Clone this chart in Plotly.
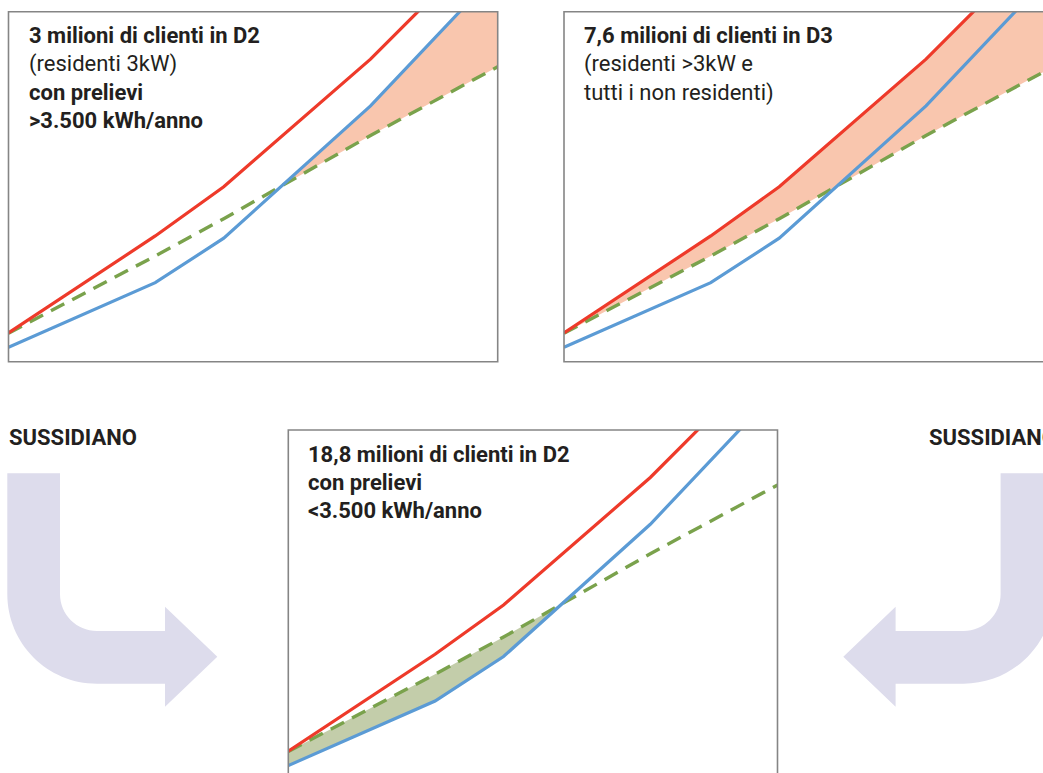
import plotly.graph_objects as go

# ---------------- data ----------------
kwh = [0, 1800, 2640, 4440, 6000]                 # consumo annuo (kWh/anno)
spesa_rossa = [115, 503, 700, 1210, 1720]         # curva rossa
spesa_blu = [58, 316, 494, 1023, 1561]            # curva blu
spesa_verde = [114, 423, 572, 905, 1180]          # curva verde tratteggiata

panel_titles = [
    [("3 milioni di clienti in D2", True), ("(residenti 3kW)", False),
     ("con prelievi", True), ("&gt;3.500 kWh/anno", True)],
    [("7,6 milioni di clienti in D3", True), ("(residenti &gt;3kW e", False),
     ("tutti i non residenti)", False)],
    [("18,8 milioni di clienti in D2", True), ("con prelievi", True),
     ("&lt;3.500 kWh/anno", True)],
]
label_sussidiano = "SUSSIDIANO"

# ---------------- style / layout ----------------
W, H = 1043, 773
XMAX, YMAX = 6000, 1400
RED, BLUE, GREEN = "#ee3a2a", "#5b9bd5", "#7aa24c"
SALMON, OLIVE = "#f9c6ae", "#c3cdaa"
LAV = "#dddcec"
TXT = "#231f20"
FONT = "Roboto"
FS = 22

PW, PH = 489.2, 350.0
panels = [(8.5, 11.7), (564.0, 11.7), (288.3, 430.0)]  # top-left pixel of each panel


def crossing(xs, a, b):
    for i in range(len(xs) - 1):
        d0, d1 = a[i] - b[i], a[i + 1] - b[i + 1]
        if d0 == 0:
            return xs[i], a[i]
        if d0 * d1 < 0:
            t = d0 / (d0 - d1)
            return xs[i] + t * (xs[i + 1] - xs[i]), a[i] + t * (a[i + 1] - a[i])
    return None


xc, yc = crossing(kwh, spesa_blu, spesa_verde)

fig = go.Figure()
shapes = []
annotations = []

for k, (x0, y0) in enumerate(panels):
    x1, y1 = x0 + PW, y0 + PH
    vx0, vy0, vx1, vy1 = max(x0, 0), max(y0, 0), min(x1, W), min(y1, H)
    xr = [(vx0 - x0) / PW * XMAX, (vx1 - x0) / PW * XMAX]
    yr = [(y1 - vy1) / PH * YMAX, (y1 - vy0) / PH * YMAX]
    n = "" if k == 0 else str(k + 1)
    fig.layout["xaxis" + n] = dict(domain=[vx0 / W, vx1 / W], range=xr, visible=False,
                                   anchor="y" + n, fixedrange=True)
    fig.layout["yaxis" + n] = dict(domain=[1 - vy1 / H, 1 - vy0 / H], range=yr, visible=False,
                                   anchor="x" + n, fixedrange=True)
    xa, ya = "x" + n, "y" + n

    # fill areas
    if k == 0:
        up = [(xc, yc)] + [(x, v) for x, v in zip(kwh, spesa_blu) if x > xc]
        lo = [(xc, yc)] + [(x, v) for x, v in zip(kwh, spesa_verde) if x > xc]
        col = SALMON
    elif k == 1:
        up = list(zip(kwh, spesa_rossa))
        lo = list(zip(kwh, spesa_verde))
        col = SALMON
    else:
        up = [(x, v) for x, v in zip(kwh, spesa_verde) if x < xc] + [(xc, yc)]
        lo = [(x, v) for x, v in zip(kwh, spesa_blu) if x < xc] + [(xc, yc)]
        col = OLIVE
    poly = up + lo[::-1]
    fig.add_trace(go.Scatter(x=[p[0] for p in poly], y=[p[1] for p in poly], fill="toself",
                             fillcolor=col, line=dict(width=0), mode="lines",
                             hoverinfo="skip", showlegend=False, xaxis=xa, yaxis=ya))
    fig.add_trace(go.Scatter(x=kwh, y=spesa_verde, mode="lines",
                             line=dict(color=GREEN, width=3.4, dash="15px,9px"),
                             showlegend=False, xaxis=xa, yaxis=ya))
    fig.add_trace(go.Scatter(x=kwh, y=spesa_rossa, mode="lines",
                             line=dict(color=RED, width=3.2), showlegend=False, xaxis=xa, yaxis=ya))
    fig.add_trace(go.Scatter(x=kwh, y=spesa_blu, mode="lines",
                             line=dict(color=BLUE, width=3.2), showlegend=False, xaxis=xa, yaxis=ya))

    # border
    shapes.append(dict(type="rect", xref="paper", yref="paper",
                       x0=x0 / W, x1=x1 / W, y0=1 - y1 / H, y1=1 - y0 / H,
                       line=dict(color="#858585", width=1.6), layer="above"))
    # texts
    for i, (t, bold) in enumerate(panel_titles[k]):
        annotations.append(dict(xref="paper", yref="paper", x=(x0 + 18) / W,
                                y=1 - (y0 + 24.3 + i * 28.3) / H,
                                xanchor="left", yanchor="middle", showarrow=False, text=t,
                                font=dict(family=FONT, size=FS, color=TXT,
                                          weight=700 if bold else 400)))


def P(x, y):
    return f"{x / W:.5f},{1 - y / H:.5f}"


def arrow_path(mirror=None):
    kk = 0.5523
    cx, cy = 97.0, 594.0
    ri, ro = 37.0, 89.7
    f = (lambda x: x) if mirror is None else (lambda x: mirror - x)

    def p(x, y):
        return P(f(x), y)
    d = (f"M{p(7.3, 473.3)} L{p(60, 473.3)} L{p(60, cy)} "
         f"C{p(60, cy + kk * ri)} {p(cx - kk * ri, cy + ri)} {p(cx, cy + ri)} "
         f"L{p(165, cy + ri)} L{p(165, 606.7)} L{p(217.3, 656.7)} L{p(165, 706.7)} "
         f"L{p(165, cy + ro)} L{p(cx, cy + ro)} "
         f"C{p(cx - kk * ro, cy + ro)} {p(7.3, cy + kk * ro)} {p(7.3, cy)} Z")
    return d


for m in (None, 1060.6):
    shapes.append(dict(type="path", xref="paper", yref="paper", path=arrow_path(m),
                       fillcolor=LAV, line=dict(width=0), layer="below"))

for xpos in (7.3, 926.7):
    annotations.append(dict(xref="paper", yref="paper", x=xpos / W, y=1 - 437.0 / H,
                            xanchor="left", yanchor="middle", showarrow=False,
                            text=label_sussidiano,
                            font=dict(family=FONT, size=FS, color=TXT, weight=700)))

fig.update_layout(width=W, height=H, autosize=False, margin=dict(l=0, r=0, t=0, b=0, pad=0),
                  paper_bgcolor="white", plot_bgcolor="rgba(0,0,0,0)",
                  shapes=shapes, annotations=annotations, showlegend=False)

fig.write_html("out.html", config={"displayModeBar": False})
